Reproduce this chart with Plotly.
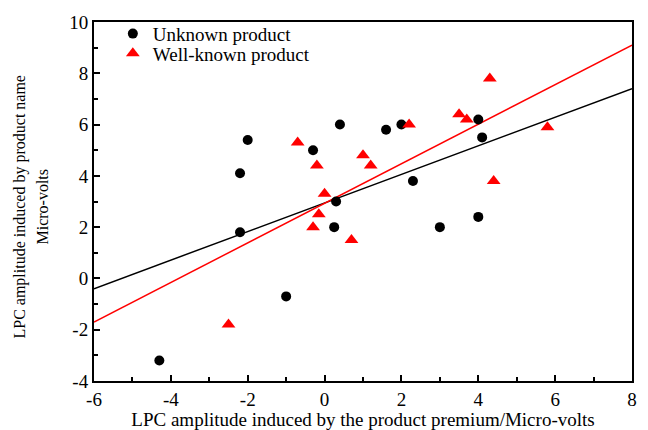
import plotly.graph_objects as go

unknown_x = [-4.3, -2.2, -2.2, -2.0, -1.0, -0.3, 0.25, 0.3, 0.4, 1.6, 2.0, 2.3, 3.0, 4.0, 4.1, 4.0]
unknown_y = [-3.2, 1.8, 4.1, 5.4, -0.7, 5.0, 2.0, 3.0, 6.0, 5.8, 6.0, 3.8, 2.0, 6.2, 5.5, 2.4]

known_x = [-2.5, -0.7, -0.2, -0.3, -0.15, 0.0, 0.7, 1.0, 1.2, 2.2, 3.5, 3.7, 4.3, 4.4, 5.8]
known_y = [-1.8, 5.3, 4.4, 2.0, 2.5, 3.3, 1.5, 4.8, 4.4, 6.0, 6.4, 6.2, 7.8, 3.8, 5.9]

fit_x = [-6, 8]
unknown_fit_y = [-0.4, 7.4]
known_fit_y = [-1.7, 9.1]

x_ticks = [-6, -4, -2, 0, 2, 4, 6, 8]
y_ticks = [-4, -2, 0, 2, 4, 6, 8, 10]

font = "Liberation Serif"

# page body has an 8px margin, so the figure is 640x422 placed at (8, 8)
fig = go.Figure()
fig.add_trace(go.Scatter(x=fit_x, y=unknown_fit_y, mode="lines", line=dict(color="black", width=1.5), showlegend=False))
fig.add_trace(go.Scatter(x=fit_x, y=known_fit_y, mode="lines", line=dict(color="red", width=1.5), showlegend=False))
fig.add_trace(go.Scatter(x=unknown_x, y=unknown_y, mode="markers", name="Unknown product",
                         marker=dict(symbol="circle", size=10, color="black"), legend="legend"))
fig.add_trace(go.Scatter(x=known_x, y=known_y, mode="markers", name="Well-known product",
                         marker=dict(symbol="triangle-up", size=12, color="red"), legend="legend2"))

axis_common = dict(showgrid=False, zeroline=False, showline=True, linecolor="black", linewidth=2,
                   mirror=True, ticks="inside", ticklen=6, tickwidth=1.5, tickcolor="black",
                   automargin=False,
                   tickfont=dict(family=font, size=19, color="black"))

fig.update_xaxes(range=[-6, 8], tickvals=x_ticks, ticktext=[str(v) for v in x_ticks],
                 minor=dict(ticks="inside", ticklen=4, dtick=1, tickcolor="black", tickwidth=1.5),
                 title=dict(text="LPC amplitude induced by the product premium/Micro-volts",
                            font=dict(family=font, size=19, color="black"), standoff=0),
                 **axis_common)
fig.update_yaxes(range=[-4, 10], tickvals=y_ticks, ticktext=[str(v) for v in y_ticks],
                 minor=dict(ticks="inside", ticklen=4, dtick=1, tickcolor="black", tickwidth=1.5),
                 **axis_common)

fig.add_annotation(text="LPC amplitude induced by product name", textangle=-90,
                   xref="paper", yref="paper", x=(20 - 94) / 538, y=0.486,
                   xanchor="center", yanchor="middle", showarrow=False,
                   font=dict(family=font, size=16, color="black"))
fig.add_annotation(text="Micro-volts", textangle=-90,
                   xref="paper", yref="paper", x=(43 - 94) / 538, y=0.486,
                   xanchor="center", yanchor="middle", showarrow=False,
                   font=dict(family=font, size=16, color="black"))

leg = dict(x=0.035, xanchor="left", yanchor="middle", bgcolor="rgba(0,0,0,0)",
           font=dict(family=font, size=19, color="black"), itemwidth=30)

fig.update_layout(
    width=640, height=422,
    margin=dict(l=86, r=16, t=7, b=49),
    plot_bgcolor="white", paper_bgcolor="white",
    legend=dict(y=1 - (27 - 15) / 366, **leg),
    legend2=dict(y=1 - (47 - 15) / 366, **leg),
)

fig.write_html("out.html")
